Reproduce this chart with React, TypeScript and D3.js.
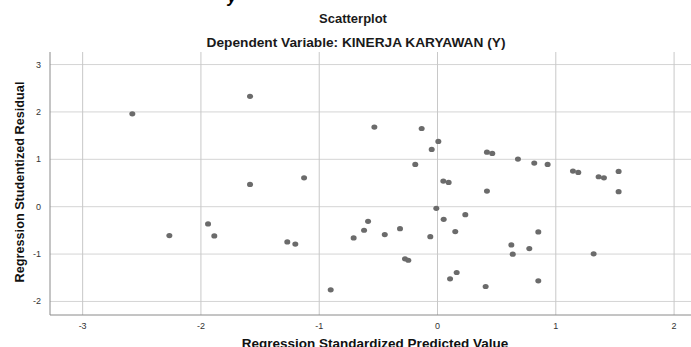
import React from "react";
import * as d3 from "d3";

const predicted: number[] = [
  -2.58, -1.585, -0.534, -1.128, -1.585, -2.267, -1.94, -1.887, -1.27, -1.202,
  -0.709, -0.621, -0.587, -0.903, -0.134, 0.007, -0.049, 0.418, 0.463, 0.68,
  0.818, 0.931, -0.188, 1.145, 1.19, 1.362, 1.407, 1.531, 0.049, 0.094,
  0.418, 1.531, -0.01, 0.052, 0.235, -0.446, -0.317, -0.061, 0.15, 0.852,
  0.624, 0.636, 0.776, 1.32, -0.275, -0.247, 0.162, 0.106, 0.407, 0.852,
];
const residual: number[] = [
  1.96, 2.33, 1.68, 0.61, 0.47, -0.61, -0.364, -0.617, -0.743, -0.79,
  -0.66, -0.497, -0.308, -1.754, 1.65, 1.377, 1.208, 1.15, 1.124, 1.004,
  0.92, 0.893, 0.893, 0.752, 0.724, 0.632, 0.61, 0.745, 0.541, 0.513,
  0.33, 0.316, -0.035, -0.266, -0.168, -0.589, -0.463, -0.632, -0.526, -0.533,
  -0.806, -1.003, -0.884, -0.996, -1.1, -1.13, -1.389, -1.522, -1.684, -1.564,
];
const xTicks: number[] = [-3, -2, -1, 0, 1, 2];
const yTicks: number[] = [-2, -1, 0, 1, 2, 3];

const chartTitle = "Scatterplot";
const chartSubtitle = "Dependent Variable: KINERJA KARYAWAN (Y)";
const xTitle = "Regression Standardized Predicted Value";
const yTitle = "Regression Studentized Residual";

const W = 691;
const H = 347;
const left = 50;
const right = 691;
const top = 52;
const bottom = 315;
const FONT = "'Liberation Sans', Arial, sans-serif";

export default function App() {
  const x = d3.scaleLinear().domain([-3.276, 2.143]).range([left, right]);
  const y = d3.scaleLinear().domain([-2.286, 3.265]).range([bottom, top]);
  const points = predicted.map((p, i) => ({ p, r: residual[i] }));
  return (
    <div style={{ position: "fixed", left: 0, top: 0 }}>
      <svg width={W} height={H} style={{ display: "block", background: "#fff" }}>
        <rect x={0} y={0} width={W} height={H} fill="#fff" />
        <text x={232} y={3} fontFamily={FONT} fontSize={16} fontWeight="bold" fontStyle="italic" textAnchor="middle" fill="#000">y</text>
        <text x={353} y={23} fontFamily={FONT} fontSize={13} fontWeight="bold" textAnchor="middle" fill="#1a1a1a">{chartTitle}</text>
        <text x={356} y={47} fontFamily={FONT} fontSize={13.7} fontWeight="bold" textAnchor="middle" fill="#1a1a1a">{chartSubtitle}</text>
        {yTicks.map((t) => (
          <line key={"gy" + t} x1={left} x2={right} y1={y(t)} y2={y(t)} stroke="#d4d4d4" strokeWidth={1} />
        ))}
        {xTicks.map((t) => (
          <line key={"gx" + t} x1={x(t)} x2={x(t)} y1={top} y2={bottom} stroke="#c8c8c8" strokeWidth={1} />
        ))}
        <line x1={left} x2={left} y1={top} y2={bottom} stroke="#8a8a8a" strokeWidth={1} />
        <line x1={left} x2={right} y1={bottom} y2={bottom} stroke="#8a8a8a" strokeWidth={1} />
        {yTicks.map((t) => (
          <text key={"ty" + t} x={41} y={y(t) + 3} fontFamily={FONT} fontSize={9} textAnchor="end" fill="#333">{t}</text>
        ))}
        {xTicks.map((t) => (
          <text key={"tx" + t} x={x(t)} y={329} fontFamily={FONT} fontSize={9} textAnchor="middle" fill="#333">{t}</text>
        ))}
        {points.map((d, i) => (
          <ellipse key={i} cx={x(d.p)} cy={y(d.r)} rx={3} ry={2.6} fill="#6b6b6b" />
        ))}
        <text x={375} y={347.5} fontFamily={FONT} fontSize={13.5} fontWeight="bold" textAnchor="middle" fill="#111">{xTitle}</text>
        <text transform={`translate(24,${182}) rotate(-90)`} fontFamily={FONT} fontSize={12.7} fontWeight="bold" textAnchor="middle" fill="#111">{yTitle}</text>
      </svg>
    </div>
  );
}
